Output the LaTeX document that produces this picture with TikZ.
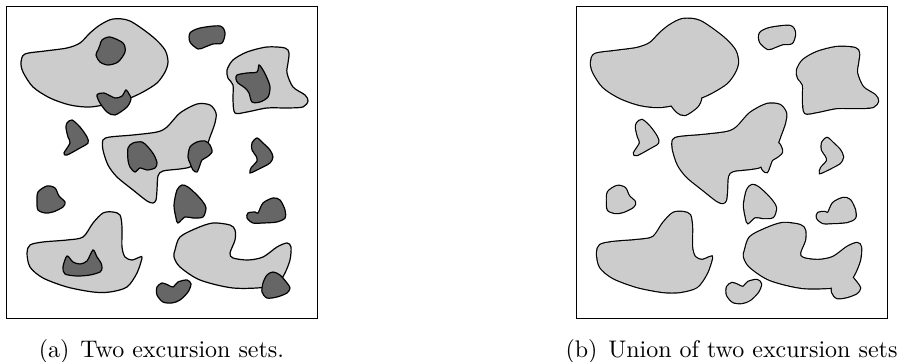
\documentclass[tikz,border=0pt]{standalone}
\usetikzlibrary{positioning}

\tikzset{
  lightset/.style={fill=black!20, draw=black, line width=0.5pt},
  darkset/.style={fill=black!60, draw=black, line width=0.5pt},
  unionedge/.style={draw=black, line width=1pt},
  unionfill/.style={fill=black!20},
  frame/.style={draw=black, line width=0.4pt},
}

% the level sets, in pixel units of one panel
\newcommand{\lightA}{plot[smooth cycle] coordinates {(21,62) (25,54) (45,51) (67,48) (80,43) (90,33) (100,25) (113,19) (130,21) (153,37) (165,50) (168,62) (165,72) (157,83) (143,92) (130,98) (113,103) (90,107) (70,105) (50,98) (33,87) (23,72)}}
\newcommand{\lightB}{plot[smooth cycle] coordinates {(227,70) (233,60) (247,52) (267,47) (285,48) (289,53) (288,63) (287,73) (293,87) (305,95) (308,101) (303,107) (287,108) (267,108) (247,112) (235,113) (233,100) (233,85) (228,78)}}
\newcommand{\lightC}{plot[smooth cycle] coordinates {(103,140) (110,137) (133,135) (157,132) (167,127) (180,113) (197,104) (210,105) (216,113) (215,123) (210,137) (205,150) (195,162) (190,167) (180,169) (163,171) (158,176) (157,190) (156,200) (153,203) (147,201) (133,190) (117,177) (108,165) (103,150)}}
\newcommand{\lightD}{plot[smooth cycle] coordinates {(27,253) (30,245) (43,242) (67,240) (83,237) (93,223) (103,213) (113,212) (120,215) (122,227) (122,247) (125,257) (132,260) (140,257) (142,258) (137,273) (127,287) (110,292) (93,292) (67,287) (43,278) (30,267)}}
\newcommand{\lightE}{plot[smooth cycle] coordinates {(175,250) (180,237) (197,228) (213,223) (230,225) (235,230) (235,240) (230,253) (233,258) (248,260) (263,257) (277,247) (287,243) (291,247) (290,260) (285,273) (280,280) (267,287) (233,288) (200,280) (180,267) (174,257)}}

\newcommand{\darkA}{plot[smooth cycle] coordinates {(102,40) (110,37) (123,43) (125,52) (118,62) (108,65) (100,62) (96,55) (98,50) (100,45)}}
\newcommand{\darkB}{plot[smooth cycle] coordinates {(97,95) (104,93) (115,98) (122,96) (126,90) (129,94) (131,99) (127,107) (115,115) (107,112) (100,103)}}
\newcommand{\darkC}{plot[smooth cycle] coordinates {(190,33) (200,28) (220,26) (225,33) (222,43) (213,44) (205,47) (198,49) (190,42)}}
\newcommand{\darkD}{plot[smooth cycle] coordinates {(237,75) (247,73) (257,72) (259,65) (263,70) (267,78) (270,87) (268,97) (260,102) (252,102) (249,93) (245,88) (238,83) (236,79)}}
\newcommand{\darkE}{plot[smooth cycle] coordinates {(67,123) (72,120) (80,127) (87,137) (88,143) (80,148) (67,155) (64,153) (70,143) (68,137) (66,128)}}
\newcommand{\darkF}{plot[smooth cycle] coordinates {(128,148) (133,143) (142,142) (148,147) (154,155) (157,163) (155,168) (147,170) (140,168) (135,172) (130,167) (128,160)}}
\newcommand{\darkG}{plot[smooth cycle] coordinates {(190,147) (197,142) (205,141) (210,145) (212,152) (207,157) (202,160) (200,165) (197,172) (193,170) (190,163) (188,157)}}
\newcommand{\darkH}{plot[smooth cycle] coordinates {(252,143) (257,138) (263,143) (270,150) (273,157) (270,163) (263,167) (255,171) (250,173) (251,168) (257,161) (256,156) (252,150)}}
\newcommand{\darkI}{plot[smooth cycle] coordinates {(38,192) (47,186) (55,188) (59,196) (65,202) (63,207) (53,212) (45,213) (38,210) (37,202)}}
\newcommand{\darkJ}{plot[smooth cycle] coordinates {(177,190) (182,185) (188,187) (197,195) (203,202) (206,208) (203,217) (193,218) (185,217) (178,223) (176,218) (174,205)}}
\newcommand{\darkK}{plot[smooth cycle] coordinates {(248,213) (255,212) (258,213) (263,203) (273,198) (280,200) (285,210) (285,218) (277,222) (263,223) (253,223) (247,218)}}
\newcommand{\darkL}{plot[smooth cycle] coordinates {(67,256) (73,262) (80,264) (87,261) (93,250) (97,257) (101,263) (102,268) (100,272) (90,275) (77,276) (65,274) (63,267)}}
\newcommand{\darkM}{plot[smooth cycle] coordinates {(263,283) (267,275) (273,272) (280,275) (287,283) (290,288) (287,293) (277,297) (267,298) (262,292)}}
\newcommand{\darkN}{plot[smooth cycle] coordinates {(157,287) (162,283) (168,285) (173,287) (178,282) (187,280) (191,284) (188,292) (180,300) (172,303) (163,302) (157,295)}}

\begin{document}
\begin{tikzpicture}[x=0.4167pt, y=-0.4167pt]
  \useasboundingbox (0,0) rectangle (918,362);

  % (a) two excursion sets
  \draw[frame] (6,6.5) rectangle (317,318);
  \foreach \s in {\lightA,\lightB,\lightC,\lightD,\lightE}
    \draw[lightset] \s;
  \foreach \s in {\darkA,\darkB,\darkC,\darkD,\darkE,\darkF,\darkG,\darkH,\darkI,\darkJ,\darkK,\darkL,\darkM,\darkN}
    \draw[darkset] \s;
  \node[anchor=base] (capa) at (161.5,357) {(a)\hspace{0.45em}Two excursion sets.};

  % (b) their union
  \begin{scope}[shift={(570,0)}]
    \draw[frame] (6,6.5) rectangle (317,318);
    \foreach \s in {\lightA,\lightB,\lightC,\lightD,\lightE,\darkA,\darkB,\darkC,\darkD,\darkE,\darkF,\darkG,\darkH,\darkI,\darkJ,\darkK,\darkL,\darkM,\darkN}
      \draw[unionedge] \s;
    \foreach \s in {\lightA,\lightB,\lightC,\lightD,\lightE,\darkA,\darkB,\darkC,\darkD,\darkE,\darkF,\darkG,\darkH,\darkI,\darkJ,\darkK,\darkL,\darkM,\darkN}
      \fill[unionfill] \s;
    \node[anchor=base] (capb) at (161.5,357) {(b)\hspace{0.45em}Union of two excursion sets};
  \end{scope}
\end{tikzpicture}
\end{document}
